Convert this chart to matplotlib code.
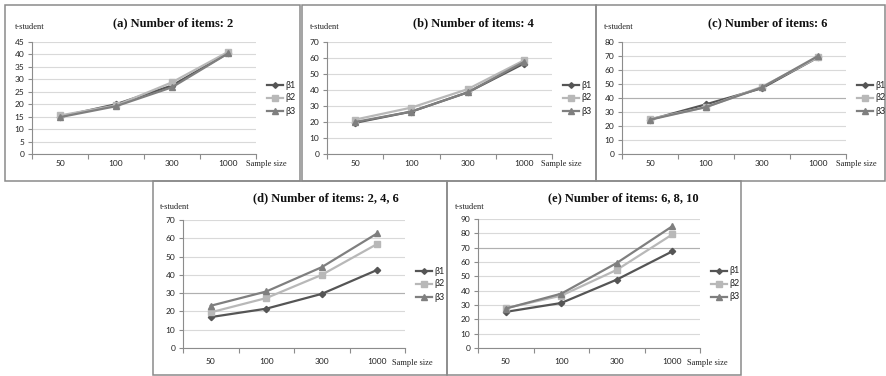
import numpy as np
import matplotlib
matplotlib.use("Agg")
import matplotlib.pyplot as plt
from matplotlib.lines import Line2D
from matplotlib.patches import Rectangle

# ---------------- data ----------------
sample_sizes = ["50", "100", "300", "1000"]
series_names = ["β1", "β2", "β3"]

titles = [
    "(a) Number of items: 2",
    "(b) Number of items: 4",
    "(c) Number of items: 6",
    "(d) Number of items: 2, 4, 6",
    "(e) Number of items: 6, 8, 10",
]

a_beta1 = [15.0, 20.0, 27.5, 40.5]
a_beta2 = [15.5, 19.5, 28.8, 41.0]
a_beta3 = [14.8, 19.2, 26.8, 40.4]

b_beta1 = [19.5, 26.5, 38.5, 56.5]
b_beta2 = [21.5, 29.0, 40.5, 58.5]
b_beta3 = [20.0, 26.5, 38.5, 57.5]

c_beta1 = [24.5, 35.5, 47.0, 69.0]
c_beta2 = [25.0, 33.5, 48.0, 69.0]
c_beta3 = [24.5, 33.5, 47.5, 70.0]

d_beta1 = [16.9, 21.5, 29.6, 42.7]
d_beta2 = [19.5, 27.3, 40.0, 56.9]
d_beta3 = [23.1, 30.9, 44.2, 62.7]

e_beta1 = [25.2, 31.4, 47.7, 67.4]
e_beta2 = [27.8, 36.5, 54.5, 79.2]
e_beta3 = [27.5, 37.9, 59.3, 84.9]

y_max = [45, 70, 80, 70, 90]
y_step = [5, 10, 10, 10, 10]

panel_data = [
    [a_beta1, a_beta2, a_beta3],
    [b_beta1, b_beta2, b_beta3],
    [c_beta1, c_beta2, c_beta3],
    [d_beta1, d_beta2, d_beta3],
    [e_beta1, e_beta2, e_beta3],
]

# ---------------- layout (pixels) ----------------
W, H = 886, 376
# frame box (left, top, right, bottom) and plot area (left, top, right, bottom)
frames = [(5, 5, 300, 181), (302, 5, 596, 181), (596, 5, 885, 181),
          (153, 181, 447, 375), (447, 181, 741, 375)]
plots = [(32, 42, 256, 154), (327, 42, 552, 154), (622, 42, 846, 154),
         (183, 220, 405, 348), (478, 219, 700, 348)]
title_pos = [(173, 23), (473, 23), (768, 23), (326, 198), (623, 198)]
xlabel_pad = [4.0, 4.0, 4.0, 7.5, 7.5]
sample_size_dx = [-10, -11, -10, -13, -13]
ylabel_dx = [10, 8, 8, 7, 8]
ylabel_dy = [22, 22, 22, 26, 26]
dark_grid = [None, None, 40, 30, 70]

axis_gray = "#8c8c8c"
grid_gray = "#d9d9d9"
frame_gray = "#8a8a8a"

styles = [
    dict(color="#555555", marker="D", markersize=3.2, linewidth=1.6),
    dict(color="#b8b8b8", marker="s", markersize=4.2, linewidth=1.6),
    dict(color="#7f7f7f", marker="^", markersize=5.0, linewidth=1.6),
]

tick_font = "Lato"
serif_font = "Liberation Serif"

fig = plt.figure(figsize=(W / 100, H / 100), dpi=100)
fig.patch.set_facecolor("white")

overlay = fig.add_axes([0, 0, 1, 1], zorder=5)
overlay.set_xlim(0, W)
overlay.set_ylim(H, 0)
overlay.axis("off")
overlay.patch.set_alpha(0)


def fig_rect(l, t, r, b):
    return [l / W, 1 - b / H, (r - l) / W, (b - t) / H]


x = np.arange(len(sample_sizes))

for i in range(5):
    fl, ft, fr, fb = frames[i]
    pl, pt, pr, pb = plots[i]

    overlay.add_patch(Rectangle((fl, ft), fr - fl, fb - ft, fill=False,
                                edgecolor=frame_gray, linewidth=1.1))

    ax = fig.add_axes(fig_rect(pl, pt, pr, pb), zorder=2)
    for vals, st in zip(panel_data[i], styles):
        ax.plot(x, vals, clip_on=False, zorder=3, **st)

    ax.set_xlim(-0.5, len(sample_sizes) - 0.5)
    ax.set_ylim(0, y_max[i])
    ax.set_yticks(np.arange(0, y_max[i] + 1, y_step[i]))
    ax.set_xticks(x, sample_sizes)
    ax.set_xticks(np.arange(-0.5, len(sample_sizes), 1.0), minor=True)

    ax.tick_params(axis="x", which="major", length=0, pad=xlabel_pad[i],
                   labelsize=6, labelcolor="#222222")
    ax.tick_params(axis="x", which="minor", length=3.5, width=0.8,
                   color=axis_gray, direction="out")
    ax.tick_params(axis="y", length=3.0, width=0.8, color=axis_gray,
                   pad=2.5, labelsize=6, labelcolor="#222222")
    for lab in ax.get_xticklabels() + ax.get_yticklabels():
        lab.set_fontfamily(tick_font)

    for s in ("top", "right"):
        ax.spines[s].set_visible(False)
    for s in ("left", "bottom"):
        ax.spines[s].set_color(axis_gray)
        ax.spines[s].set_linewidth(0.8)

    ax.yaxis.grid(True, color=grid_gray, linewidth=0.8)
    ax.set_axisbelow(True)
    if dark_grid[i] is not None:
        ax.axhline(dark_grid[i], color="#b0b0b0", linewidth=0.8, zorder=1)

    # title and axis captions
    tx, ty = title_pos[i]
    overlay.text(tx, ty, titles[i], ha="center", va="center",
                 fontsize=9, fontweight="bold", family=serif_font,
                 color="#111111")
    overlay.text(fl + ylabel_dx[i], ft + ylabel_dy[i], "t-student",
                 ha="left", va="center", fontsize=6, family=serif_font,
                 color="#222222")
    xlab_y = pb + (10 if i < 3 else 15)
    overlay.text(pr + sample_size_dx[i], xlab_y, "Sample size",
                 ha="left", va="center", fontsize=6, family=serif_font,
                 color="#222222")

    # legend
    cy = (pt + pb) / 2
    for k, (name, st) in enumerate(zip(series_names, styles)):
        yy = cy + (k - 1) * 13
        x0 = pr + 11
        overlay.add_line(Line2D([x0, x0 + 16], [yy, yy], color=st["color"],
                                linewidth=st["linewidth"]))
        overlay.add_line(Line2D([x0 + 8], [yy], color=st["color"],
                                marker=st["marker"],
                                markersize=st["markersize"] * 0.9,
                                linestyle="none"))
        overlay.text(x0 + 18, yy, name, ha="left", va="center",
                     fontsize=6.5, family=tick_font, color="#222222")

fig.savefig("out.png", dpi=100, facecolor="white")
